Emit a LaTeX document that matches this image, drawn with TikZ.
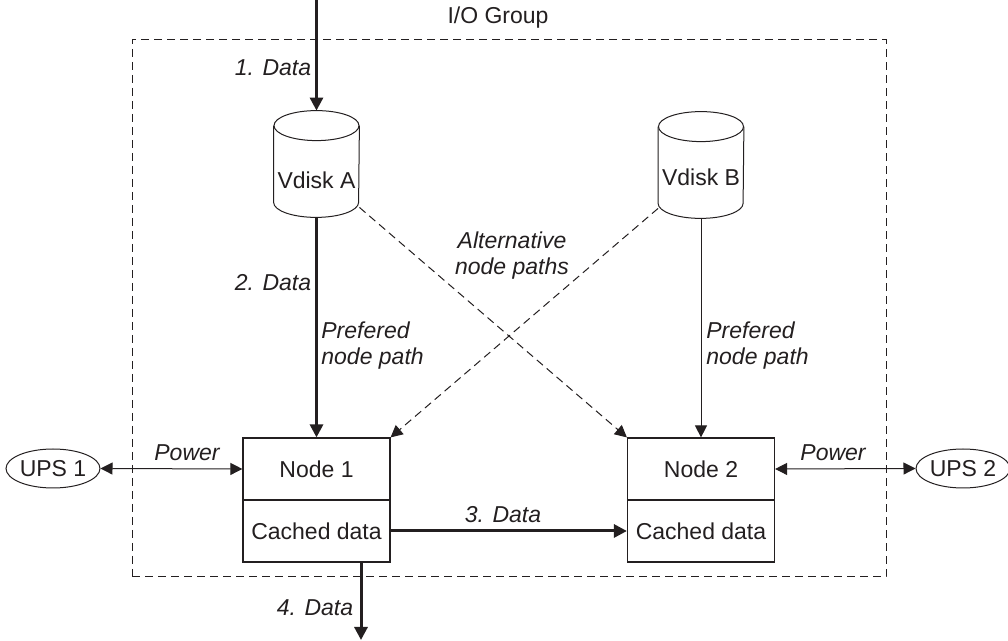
\documentclass[tikz,border=0pt]{standalone}
\usepackage{fontspec}
\setmainfont{Liberation Sans}
\usetikzlibrary{arrows.meta,shapes.geometric}
\definecolor{ink}{HTML}{231F20}
\begin{document}
\begin{tikzpicture}[x=0.5pt,y=-0.5pt,
  every node/.style={text=ink, font=\fontsize{11.5}{13}\selectfont},
  lbl/.style={font=\fontsize{11.5}{13}\selectfont\itshape},
  box/.style={draw=ink, line width=0.6pt, minimum width=73.5pt, minimum height=31pt, inner sep=0pt},
  disk/.style={minimum width=42.5pt, minimum height=53pt, inner sep=0pt},
  cyl/.style={draw=ink, line width=0.5pt, fill=white},
  ups/.style={draw=ink, ellipse, line width=0.5pt, minimum width=44pt, minimum height=19.5pt, inner sep=0pt},
  bigarrow/.style={draw=ink, line width=1.5pt, -{Triangle[length=6.5pt,width=6.5pt]}},
  thinarrow/.style={draw=ink, line width=0.5pt, -{Triangle[length=6pt,width=6pt]}},
  altarrow/.style={thinarrow, dash pattern=on 4pt off 2.5pt},
  powerline/.style={draw=ink, line width=0.5pt, {Triangle[length=6pt,width=6pt]}-{Triangle[length=6pt,width=6pt]}},
  group/.style={draw=ink, line width=0.5pt, dash pattern=on 4pt off 2.5pt, minimum width=377pt, minimum height=268.5pt, inner sep=0pt},
]
\useasboundingbox (0,0) rectangle (1008,641);

% I/O group
\node[group] (grp) at (509,308.5) {};
\node (grplabel) at (498,18) {I/O Group};

% Vdisks
\node[disk] (va) at (316.5,164) {};
\node[disk] (vb) at (701,165) {};
\foreach \d in {va,vb}{
  \draw[cyl] ([yshift=-7.5pt]\d.north west) -- ([yshift=7.5pt]\d.south west)
     arc[start angle=180, end angle=360, x radius=21.25pt, y radius=7.5pt]
     -- ([yshift=-7.5pt]\d.north east);
  \draw[cyl] ([yshift=-7.5pt]\d.north) ellipse [x radius=21.25pt, y radius=7.5pt];
}
\node (vatext) at (316.5,180) {Vdisk A};
\node (vbtext) at (701,177) {Vdisk B};

% Nodes
\node[box] (n1) at (316.5,469) {Node 1};
\node[box] (c1) at (316.5,531) {Cached data};
\node[box] (n2) at (701,469) {Node 2};
\node[box] (c2) at (701,531) {Cached data};

% UPS
\node[ups] (ups1) at (53,468.5) {UPS 1};
\node[ups] (ups2) at (963,468.5) {UPS 2};

% Connectors
\coordinate (in) at (316.5,0);
\coordinate (out) at (361,640);
\draw[bigarrow] (in) -- (va.north);
\draw[bigarrow] (va.south) -- (n1.north);
\draw[thinarrow] (vb.south) -- (n2.north);
\draw[altarrow] ([yshift=5pt]va.south east) -- (n2.north west);
\draw[altarrow] ([yshift=5pt]vb.south west) -- (n1.north east);
\draw[bigarrow] (c1.east) -- (c2.west);
\draw[bigarrow] (c1.south -| out) -- (out);
\draw[powerline] (ups1.east) -- (n1.west);
\draw[powerline] (n2.east) -- (ups2.west);

% Labels
\node[lbl] (l1) at (273,68) {1. Data};
\node[lbl] (l2) at (273,283) {2. Data};
\node[lbl] (l3) at (503,515) {3. Data};
\node[lbl] (l4) at (315,608) {4. Data};
\node[lbl, align=left, anchor=west, inner sep=0pt] (p1) at (321,346) {Prefered\\node path};
\node[lbl, align=left, anchor=west, inner sep=0pt] (p2) at (706,346) {Prefered\\node path};
\node[lbl, align=center] (alt) at (512,256) {Alternative\\node paths};
\node[lbl] (pw1) at (187,453) {Power};
\node[lbl] (pw2) at (833,453) {Power};
\end{tikzpicture}
\end{document}
